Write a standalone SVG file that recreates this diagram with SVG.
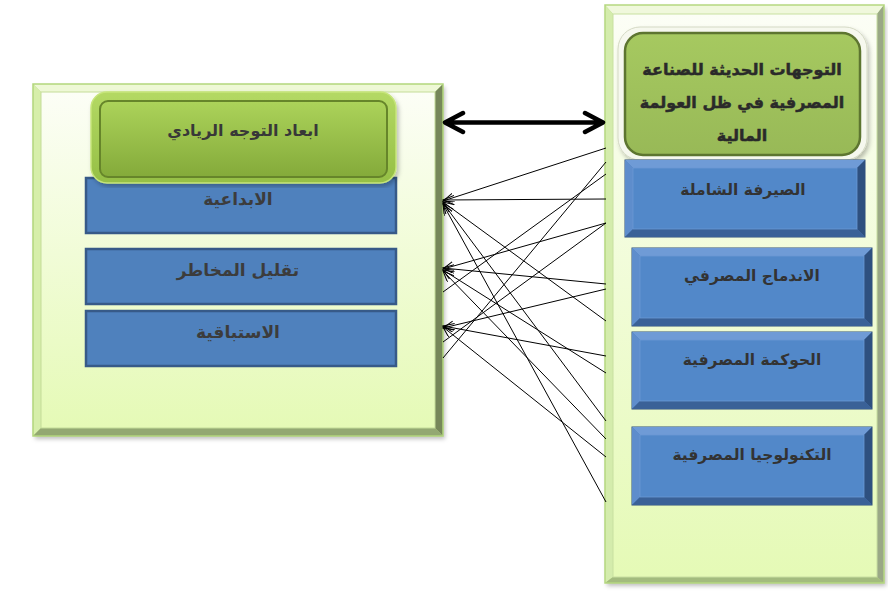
<svg xmlns="http://www.w3.org/2000/svg" width="888" height="591" viewBox="0 0 888 591">
<defs>
<linearGradient id="panelFace" x1="0" y1="0" x2="0" y2="1">
<stop offset="0" stop-color="#fcfef6"/>
<stop offset="1" stop-color="#e5fab6"/>
</linearGradient>
<linearGradient id="greenInner" x1="0" y1="0" x2="0" y2="1">
<stop offset="0" stop-color="#acd35a"/>
<stop offset="1" stop-color="#84aa3a"/>
</linearGradient>
<linearGradient id="greenOuter" x1="0" y1="0" x2="0" y2="1">
<stop offset="0" stop-color="#b4d964"/>
<stop offset="1" stop-color="#95bf45"/>
</linearGradient>
<linearGradient id="greenRight" x1="0" y1="0" x2="0" y2="1">
<stop offset="0" stop-color="#a6c960"/>
<stop offset="1" stop-color="#98b957"/>
</linearGradient>
<marker id="arr" markerUnits="userSpaceOnUse" markerWidth="14" markerHeight="10" refX="11" refY="4.5" orient="auto">
<path d="M0,0 L11,4.5 L0,9" fill="none" stroke="#000" stroke-width="1"/>
</marker>
<filter id="sh" x="-5%" y="-5%" width="110%" height="110%">
<feDropShadow dx="2" dy="3" stdDeviation="2" flood-color="#000" flood-opacity="0.25"/>
</filter>
</defs>
<style>
.ar{font-family:"DejaVu Sans","Noto Sans",sans-serif;font-weight:bold;text-anchor:middle;fill:#383838}
.hdr{font-size:16px}
.lbl{font-size:17px;fill:#3c3c3c}
.rlbl{font-size:15.5px;fill:#333}
.rh{font-size:16px;fill:#2a2a2a;stroke:#2a2a2a;stroke-width:0.5}
.conn line{stroke:#000;stroke-width:1}
.bb{fill:#4f81bd;stroke:#375a88;stroke-width:2.5}
.bo{fill:#4a7bbb;stroke:#2c4c7a;stroke-width:1}
.bt{fill:#6f9bd6}
.bl{fill:#5e8dcc}
.br{fill:#2e507f}
.bbt{fill:#3a6197}
.bf{fill:#5288c9;stroke:#6a98d4;stroke-width:0.8}
</style>

<!-- Left container panel -->
<g id="left-panel">
<rect x="33" y="84" width="410" height="352" fill="#b9db86" filter="url(#sh)"/>
<polygon points="33,84 443,84 435,92 41,92" fill="#eef8d6"/>
<polygon points="33,84 41,92 41,428 33,436" fill="#d6eeaa"/>
<polygon points="443,84 443,436 435,428 435,92" fill="#76875a"/>
<polygon points="33,436 41,428 435,428 443,436" fill="#93a872"/>
<rect x="33" y="84" width="410" height="352" fill="none" stroke="#b2d67c" stroke-width="1.5"/>
<rect x="41" y="92" width="394" height="336" fill="url(#panelFace)" stroke="#c3dc98" stroke-width="1"/>
</g>

<!-- Right container panel -->
<g id="right-panel">
<rect x="605" y="5" width="279" height="578" fill="#bcdc8a" filter="url(#sh)"/>
<polygon points="605,5 884,5 877,14 613,14" fill="#f0f8dc"/>
<polygon points="605,5 613,14 613,577 605,583" fill="#d4ecac"/>
<polygon points="884,5 884,583 877,577 877,14" fill="#9aa886"/>
<polygon points="605,583 613,577 877,577 884,583" fill="#a3bb7e"/>
<rect x="605" y="5" width="279" height="578" fill="none" stroke="#b5d880" stroke-width="1.5"/>
<rect x="613" y="14" width="264" height="563" fill="url(#panelFace)" stroke="#c8dfa0" stroke-width="1"/>
</g>

<!-- Left nodes -->
<g id="node-ibdaiya">
<rect class="bb" x="86" y="178" width="310" height="55"/>
<text class="ar lbl" x="238" y="205">الابداعية</text>
</g>
<g id="node-taqlil">
<rect class="bb" x="86" y="249" width="310" height="55"/>
<text class="ar lbl" x="238" y="276">تقليل المخاطر</text>
</g>
<g id="node-istibaqiya">
<rect class="bb" x="86" y="311" width="310" height="55"/>
<text class="ar lbl" x="238" y="338">الاستباقية</text>
</g>
<g id="node-left-header">
<rect x="91" y="92" width="305" height="91" rx="16" fill="url(#greenOuter)" stroke="#c6e57a" stroke-width="1.5" filter="url(#sh)"/>
<rect x="100" y="101" width="287" height="76" rx="8" fill="url(#greenInner)" stroke="#66852a" stroke-width="2"/>
<text class="ar hdr" x="243" y="136">ابعاد التوجه الريادي</text>
</g>

<!-- Right nodes -->
<g id="node-right-header">
<rect x="618" y="27" width="249" height="133" rx="22" fill="#f6f8ee" stroke="#d4d9c4" stroke-width="1" filter="url(#sh)"/>
<rect x="625" y="33" width="235" height="122" rx="18" fill="url(#greenRight)" stroke="#5d7530" stroke-width="2.5"/>
<text class="ar rh" x="742" y="75">التوجهات الحديثة للصناعة</text>
<text class="ar rh" x="742" y="108">المصرفية في ظل العولمة</text>
<text class="ar rh" x="742" y="141">المالية</text>
</g>
<g id="node-sayrafa">
<rect class="bo" x="625" y="160" width="240" height="77"/>
<polygon class="bt" points="625,160 865,160 857,168 633,168"/>
<polygon class="bl" points="625,160 633,168 633,229 625,237"/>
<polygon class="br" points="865,160 865,237 857,229 857,168"/>
<polygon class="bbt" points="625,237 633,229 857,229 865,237"/>
<rect class="bf" x="633" y="168" width="224" height="61"/>
<text class="ar rlbl" x="743" y="195">الصيرفة الشاملة</text>
</g>
<g id="node-indimaj">
<rect class="bo" x="632" y="248" width="240" height="78"/>
<polygon class="bt" points="632,248 872,248 864,256 640,256"/>
<polygon class="bl" points="632,248 640,256 640,318 632,326"/>
<polygon class="br" points="872,248 872,326 864,318 864,256"/>
<polygon class="bbt" points="632,326 640,318 864,318 872,326"/>
<rect class="bf" x="640" y="256" width="224" height="62"/>
<text class="ar rlbl" x="752" y="281">الاندماج المصرفي</text>
</g>
<g id="node-hawkama">
<rect class="bo" x="632" y="332" width="240" height="77"/>
<polygon class="bt" points="632,332 872,332 864,340 640,340"/>
<polygon class="bl" points="632,332 640,340 640,401 632,409"/>
<polygon class="br" points="872,332 872,409 864,401 864,340"/>
<polygon class="bbt" points="632,409 640,401 864,401 872,409"/>
<rect class="bf" x="640" y="340" width="224" height="61"/>
<text class="ar rlbl" x="752" y="365">الحوكمة المصرفية</text>
</g>
<g id="node-technology">
<rect class="bo" x="632" y="427" width="240" height="78"/>
<polygon class="bt" points="632,427 872,427 864,435 640,435"/>
<polygon class="bl" points="632,427 640,435 640,497 632,505"/>
<polygon class="br" points="872,427 872,505 864,497 864,435"/>
<polygon class="bbt" points="632,505 640,497 864,497 872,505"/>
<rect class="bf" x="640" y="435" width="224" height="62"/>
<text class="ar rlbl" x="752" y="460">التكنولوجيا المصرفية</text>
</g>

<!-- Connectors -->
<g id="connectors" class="conn">
<path d="M446,122.5 L602,122.5 M463,113 L445,122.5 L463,132 M585,113 L603,122.5 L585,132" fill="none" stroke="#000" stroke-width="4.5" stroke-linecap="round" stroke-linejoin="round"/>
<line x1="606" y1="148" x2="443" y2="201" marker-end="url(#arr)"/>
<line x1="606" y1="199" x2="443" y2="200" marker-end="url(#arr)"/>
<line x1="606" y1="321" x2="443" y2="202" marker-end="url(#arr)"/>
<line x1="606" y1="421" x2="443" y2="203" marker-end="url(#arr)"/>
<line x1="606" y1="502" x2="443" y2="204" marker-end="url(#arr)"/>
<line x1="606" y1="223" x2="443" y2="269" marker-end="url(#arr)"/>
<line x1="606" y1="284" x2="443" y2="268" marker-end="url(#arr)"/>
<line x1="606" y1="373" x2="443" y2="270" marker-end="url(#arr)"/>
<line x1="606" y1="439" x2="443" y2="271" marker-end="url(#arr)"/>
<line x1="606" y1="289" x2="443" y2="328" marker-end="url(#arr)"/>
<line x1="606" y1="356" x2="443" y2="326" marker-end="url(#arr)"/>
<line x1="606" y1="457" x2="443" y2="327" marker-end="url(#arr)"/>
<line x1="443" y1="292" x2="606" y2="174"/>
<line x1="443" y1="342" x2="606" y2="223"/>
<line x1="443" y1="358" x2="606" y2="162"/>
</g>
</svg>
